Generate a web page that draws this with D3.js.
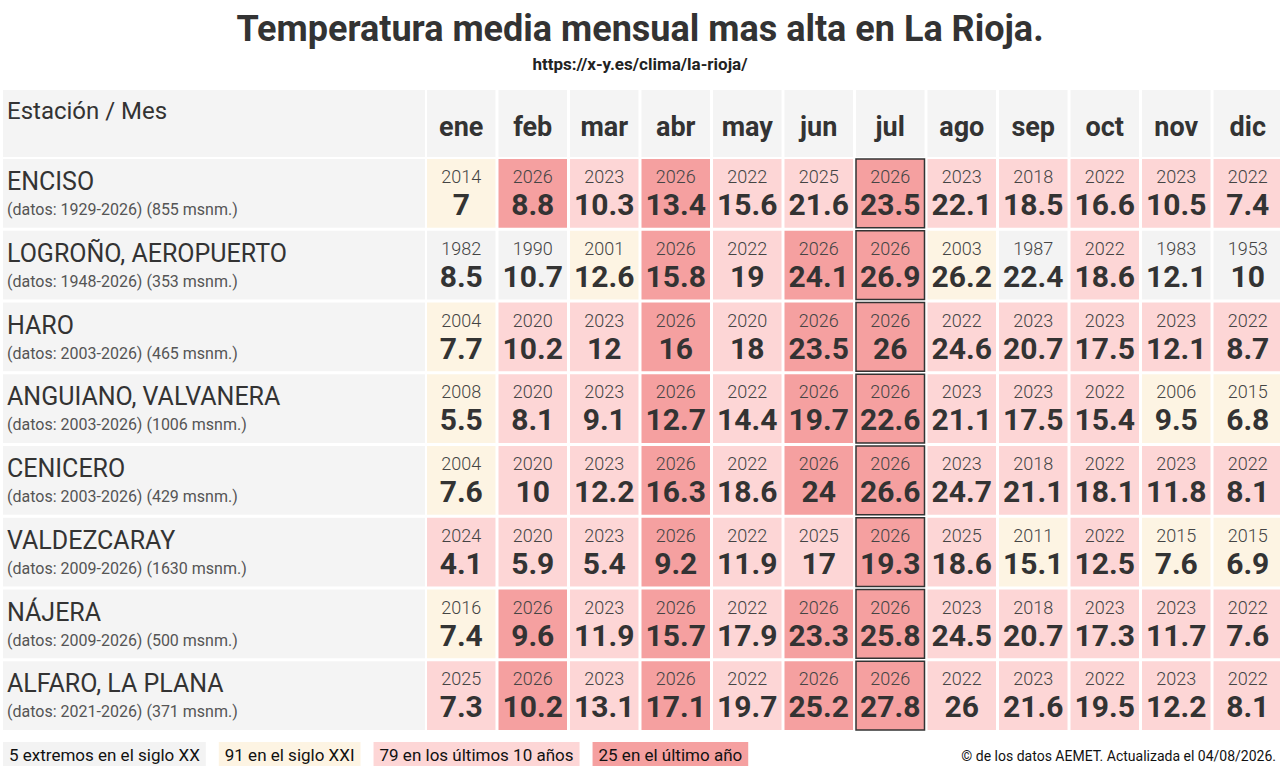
<!DOCTYPE html>
<html><head><meta charset="utf-8">
<script src="https://cdn.jsdelivr.net/npm/d3@7"></script>
<style>body{margin:0;background:#fff;font-family:Roboto,sans-serif;}</style>
</head><body><svg id="chart" width="1280" height="778"></svg>
<script>
var months = ["ene","feb","mar","abr","may","jun","jul","ago","sep","oct","nov","dic"];
var stations = ["ENCISO","LOGROÑO, AEROPUERTO","HARO","ANGUIANO, VALVANERA","CENICERO","VALDEZCARAY","NÁJERA","ALFARO, LA PLANA"];
var stationInfo = ["(datos: 1929-2026) (855 msnm.)","(datos: 1948-2026) (353 msnm.)","(datos: 2003-2026) (465 msnm.)",
  "(datos: 2003-2026) (1006 msnm.)","(datos: 2003-2026) (429 msnm.)","(datos: 2009-2026) (1630 msnm.)",
  "(datos: 2009-2026) (500 msnm.)","(datos: 2021-2026) (371 msnm.)"];
var years = [
  [2014,2026,2023,2026,2022,2025,2026,2023,2018,2022,2023,2022],
  [1982,1990,2001,2026,2022,2026,2026,2003,1987,2022,1983,1953],
  [2004,2020,2023,2026,2020,2026,2026,2022,2023,2023,2023,2022],
  [2008,2020,2023,2026,2022,2026,2026,2023,2023,2022,2006,2015],
  [2004,2020,2023,2026,2022,2026,2026,2023,2018,2022,2023,2022],
  [2024,2020,2023,2026,2022,2025,2026,2025,2011,2022,2015,2015],
  [2016,2026,2023,2026,2022,2026,2026,2023,2018,2023,2023,2022],
  [2025,2026,2023,2026,2022,2026,2026,2022,2023,2022,2023,2022]];
var values = [
  [7,8.8,10.3,13.4,15.6,21.6,23.5,22.1,18.5,16.6,10.5,7.4],
  [8.5,10.7,12.6,15.8,19,24.1,26.9,26.2,22.4,18.6,12.1,10],
  [7.7,10.2,12,16,18,23.5,26,24.6,20.7,17.5,12.1,8.7],
  [5.5,8.1,9.1,12.7,14.4,19.7,22.6,21.1,17.5,15.4,9.5,6.8],
  [7.6,10,12.2,16.3,18.6,24,26.6,24.7,21.1,18.1,11.8,8.1],
  [4.1,5.9,5.4,9.2,11.9,17,19.3,18.6,15.1,12.5,7.6,6.9],
  [7.4,9.6,11.9,15.7,17.9,23.3,25.8,24.5,20.7,17.3,11.7,7.6],
  [7.3,10.2,13.1,17.1,19.7,25.2,27.8,26,21.6,19.5,12.2,8.1]];
var legendLabels = ["5 extremos en el siglo XX","91 en el siglo XXI","79 en los últimos 10 años","25 en el último año"];
var legendColors = ["#f3f3f3","#fdf4e3","#fdd6d6","#f5a0a0"];
var currentMonth = "jul";

function colorFor(y){
  if (y < 2001) return legendColors[0];
  if (y < 2017) return legendColors[1];
  if (y < 2026) return legendColors[2];
  return legendColors[3];
}

var svg = d3.select("#chart");
var ink = "#333";

svg.append("text").attr("x",640).attr("y",41).attr("text-anchor","middle")
  .style("font-size","36px").style("font-weight","bold").attr("fill",ink)
  .text("Temperatura media mensual mas alta en La Rioja.");
svg.append("text").attr("x",640).attr("y",70).attr("text-anchor","middle")
  .style("font-size","17px").style("font-weight","bold").attr("fill","#222")
  .text("https://x-y.es/clima/la-rioja/");

var x = d3.scaleBand().domain(months).range([427,1282]).paddingInner(0.042);
var y = d3.scaleBand().domain(stations).range([159,730]).paddingInner(0.042);

// header
svg.append("rect").attr("x",3).attr("y",90).attr("width",422).attr("height",67).attr("fill","#f4f4f4");
svg.append("text").attr("x",7).attr("y",119).style("font-size","24px").attr("fill",ink).text("Estación / Mes");
svg.selectAll(".mh").data(months).enter().append("rect")
  .attr("x",d=>x(d)).attr("y",90).attr("width",x.bandwidth()).attr("height",67).attr("fill","#f4f4f4");
svg.selectAll(".mt").data(months).enter().append("text")
  .attr("x",d=>x(d)+x.bandwidth()/2).attr("y",136).attr("text-anchor","middle")
  .style("font-size","27px").style("font-weight","bold").attr("fill",ink).text(d=>d);

// station labels
var rows = svg.selectAll(".row").data(stations).enter().append("g");
rows.append("rect").attr("x",3).attr("y",d=>y(d)).attr("width",422).attr("height",y.bandwidth()).attr("fill","#f4f4f4");
rows.append("text").attr("x",7).attr("y",d=>y(d)+31).style("font-size","25px").attr("fill",ink).text(d=>d);
rows.append("text").attr("x",7).attr("y",(d,i)=>y(d)+56).style("font-size","16px").attr("fill","#555")
  .text((d,i)=>stationInfo[i]);

// cells
stations.forEach(function(s,i){
  var g = svg.append("g");
  var cells = g.selectAll("g").data(months).enter().append("g");
  cells.append("rect").attr("x",d=>x(d)).attr("y",y(s)).attr("width",x.bandwidth()).attr("height",y.bandwidth())
    .attr("fill",(d,j)=>colorFor(years[i][j]));
  cells.append("text").attr("x",d=>x(d)+x.bandwidth()/2).attr("y",y(s)+24).attr("text-anchor","middle")
    .style("font-size","18px").style("font-weight","300").attr("fill","#444").text((d,j)=>years[i][j]);
  cells.append("text").attr("x",d=>x(d)+x.bandwidth()/2).attr("y",y(s)+56).attr("text-anchor","middle")
    .style("font-size","30px").style("font-weight","bold").attr("fill",ink).text((d,j)=>values[i][j]);
});

// current month outline
stations.forEach(function(s){
  svg.append("rect").attr("x",x(currentMonth)).attr("y",y(s)).attr("width",x.bandwidth()).attr("height",y.bandwidth())
    .attr("fill","none").attr("stroke","#333").attr("stroke-width",1.5);
});

// legend
var lx = 3;
legendLabels.forEach(function(l,i){
  var t = svg.append("text").attr("x",lx+6).attr("y",761).style("font-size","17px").attr("fill","#111").text(l);
  var w = t.node().getComputedTextLength();
  svg.insert("rect","text").attr("x",lx).attr("y",742).attr("width",w+12).attr("height",24).attr("fill",legendColors[i]);
  lx += w + 25;
});
svg.append("text").attr("x",1276).attr("y",761).attr("text-anchor","end").style("font-size","14px").attr("fill","#111")
  .text("© de los datos AEMET. Actualizada el 04/08/2026.");
</script></body></html>
